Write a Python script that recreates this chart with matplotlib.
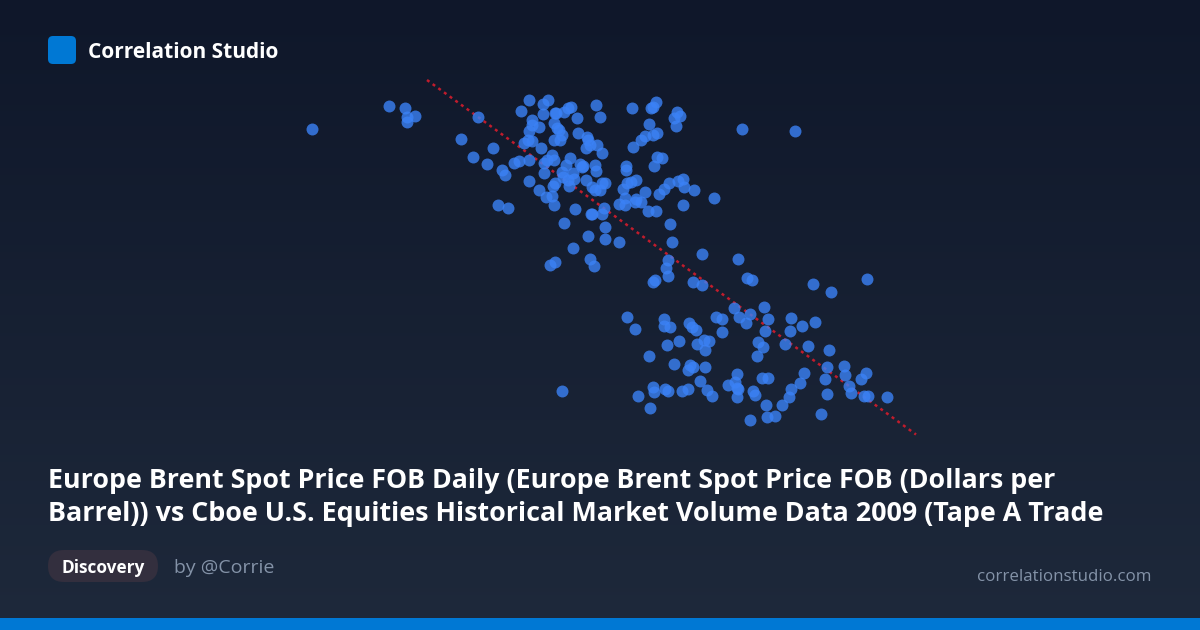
import matplotlib
matplotlib.use('Agg')
import matplotlib.pyplot as plt
import numpy as np
from matplotlib.patches import FancyBboxPatch, Rectangle

# values, the chart has no axes so they are in image units
x_vals = [312.3,389.3,404.7,407,407,415.3,477.7,461,492.7,472.7,486.7,501.7,505.3,513.7,519,529,529,548.3,543,521,
          542.7,555,555.5,564,568.3,571,577,596.3,600.3,531.7,531.7,538.7,528.7,554.3,556.7,559.3,561.7,560.3,554,578,
          586.7,588.3,590,586,596.7,602.3,524.3,528.3,532.3,540.7,551.7,554.3,546.7,544,544,529.3,570,565.7,580,583,
          582,595,596,562.3,563.3,572.7,568.3,574,569,555,553.3,585.7,591.7,595,600,601.7,605,539,545.7,551.7,
          554,575,591,591.7,601.7,604.3,605,564,587.7,605,572.7,590,594,555.3,550.3,498,508,632,655.7,653.3,
          650.7,676.7,680,674.3,675.7,649,657,653.3,645,641,632.7,657.3,662,653.7,626.3,625.7,635.7,630.7,627.3,622.7,
          645.3,664,659.3,669.3,678.3,682.7,684,693.7,714.3,682.7,647.7,656.3,625.3,619.3,624.7,636.3,635,641,670,671.7,
          619,668.3,665.7,667.7,702.3,738.3,747.3,752,813.3,830.7,867.3,741.7,795,655,653.3,692.7,701.7,627.3,635,663.7,
          664.3,669.7,688.7,691.7,695.7,716,722.3,734,738.7,722,667,678.7,697.3,704.3,709.3,705,649,674,689.7,692.7,
          687.7,705,700.3,728.3,736.7,735.3,737.3,736.7,707.3,712.3,652.7,653.7,665.3,668,682,688.3,638,649.7,562.3,763.7,
          750,746,768.3,765.3,791.3,790,802,815.3,758.3,762.7,756.7,784.7,808.3,828.7,826.7,804.3,799.7,791.3,789.3,782,
          765.7,775.3,767,749.7,821,824.7,827,844,844.7,860.7,866.3,849.3,851.3,863.7,868.3,887,738.3,753.3,755.3,762.3,768.3]
y_vals = [128.7,106,108.3,116.7,121.7,116.3,117,139,148.3,157.3,164.3,169.7,175,163.3,160.7,159.7,100,100,104,110.7,
          114,112.7,113.3,112.3,107.7,107.3,118,105,117.3,120.3,125,127,131,123.3,128.3,130,135,139.7,140.3,133.3,
          137.3,140,145,148,145.3,152.7,143.3,140,141,147.7,155,160,160,163.3,172.7,181.3,157.7,164.7,164,166,
          167.3,164.7,170.7,171.7,176.7,173,180,178.7,186,182.7,186,179.7,186.7,190,190,183.3,182.7,189.7,196.7,195.7,
          205.3,209,214.3,214.3,214.3,208,226.7,223.3,235.7,239.3,248.3,259,266,262.3,264.7,204.7,208,107.7,102.3,106.7,
          108,112,116,118,125.7,124.3,133,135,135.7,139.7,147,156.7,158,166.3,166,170,180,182.3,182.7,189.3,
          191.7,188.7,194,182.7,180.7,179.3,186.7,189.7,198.3,204.7,211.3,211.3,198.3,204,205.3,199,202.3,202.3,223.7,241.7,
          242,260,268.3,275.7,254.3,259.3,277.7,280.3,284.3,292,279.3,129,130.7,280.3,281.7,282.3,284.7,316.7,328.7,319.3,
          326,327,322.7,327.3,330,317,318.7,307.7,316.7,331.7,344.7,341.3,344.3,339.7,340.7,350,356,364.3,365,367.3,
          370,367,380.7,385,374.3,381.7,388.3,396.7,390,395.7,387.3,391.7,389.3,391,391,389.3,396,408,391,307,
          314.3,322.7,318.7,331,318.3,331.3,326.3,321.7,342.3,347.3,356,344,346,349.7,367,373,383,388.7,397.3,404.7,
          405,415.7,417.3,419.7,413.7,378.7,394,365.7,374.7,379,372.7,386.3,393,395.7,396.3,397,389,391.3,395.3,378.3,378]
trend_x = [427,916]
trend_y = [80,434.5]

title_lines = ['Europe Brent Spot Price FOB Daily (Europe Brent Spot Price FOB (Dollars per',
               'Barrel)) vs Cboe U.S. Equities Historical Market Volume Data 2009 (Tape A Trade']
brand = 'Correlation Studio'
tag = 'Discovery'
byline = 'by @Corrie'
site = 'correlationstudio.com'

plt.rcParams['font.family'] = ['Open Sans', 'DejaVu Sans']

fig = plt.figure(figsize=(12,6.3),dpi=100)
ax = fig.add_axes([0,0,1,1])
ax.set_xlim(0,1200)
ax.set_ylim(630,0)
ax.axis('off')

# background gradient, dark navy to slate
top = np.array([15,23,42])/255
bottom = np.array([30,41,59])/255
grad = np.linspace(0,1,630)[:,None,None]*(bottom-top)+top
ax.imshow(grad,extent=[0,1200,630,0],aspect='auto',zorder=0)
ax.add_patch(Rectangle((0,618),1200,12,color='#0078d4',lw=0,zorder=1))

# logo and tag pill
ax.add_patch(FancyBboxPatch((53,41),18,18,boxstyle='round,pad=5,rounding_size=5',fc='#0078d4',ec='none',zorder=1))
ax.add_patch(FancyBboxPatch((54,556),98,20,boxstyle='round,pad=6,rounding_size=16',fc='#332f3e',ec='none',zorder=1))

# scatter and trend line
ax.plot(trend_x,trend_y,color='#c01c2c',lw=1.8,linestyle=(0,(1.2,1.6)),zorder=2)
ax.scatter(x_vals,y_vals,s=74,color='#3b82f6',alpha=0.8,linewidths=0,zorder=3)

ax.text(88,58,brand,color='white',fontsize=15,fontweight='bold',zorder=4)
ax.text(48,488,title_lines[0],color='white',fontsize=19.3,fontweight='bold',zorder=4)
ax.text(48,521,title_lines[1],color='white',fontsize=19.4,fontweight='bold',zorder=4)
ax.text(103,573,tag,color='white',fontsize=12.4,fontweight='bold',ha='center',zorder=4)
ax.text(174,573,byline,color='#8493a8',fontsize=14,zorder=4)
ax.text(1151,581,site,color='#8493a8',fontsize=12.2,ha='right',zorder=4)

fig.savefig('out.png',dpi=100)
